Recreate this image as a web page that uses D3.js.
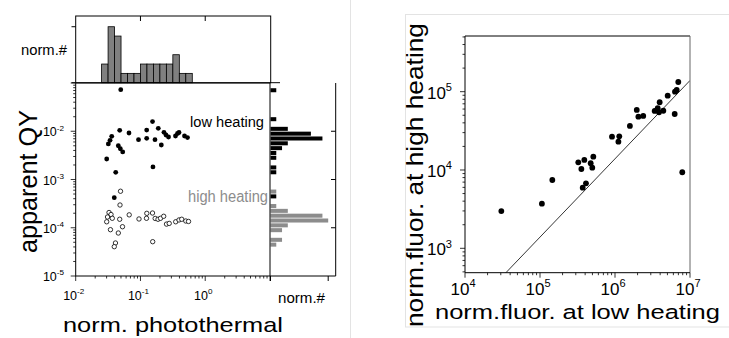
<!DOCTYPE html>
<html><head><meta charset="utf-8">
<script src="https://cdn.jsdelivr.net/npm/d3@7"></script>
<style>body{margin:0;background:#fff;} svg{display:block;font-family:"Liberation Sans",Arial,sans-serif;}</style>
</head><body><svg id="c" width="729" height="338"></svg>
<script>
// ---------- DATA ----------
// left panel: low heating (filled) points
const lowX = [0.0496,0.1535,0.0478,0.0665,0.1247,0.1884,0.2306,0.2477,0.2710,0.3475,0.3733,0.3937,0.4786,0.5324,0.0360,0.0339,0.0319,0.0933,0.1247,0.1675,0.2099,0.0455,0.0489,0.0532,0.0301,0.0415,0.1559,0.0394];
const lowY = [0.0727,0.0159,0.01047,0.0092,0.0106,0.0115,0.0095,0.00836,0.0076,0.00798,0.00898,0.00941,0.00798,0.00741,0.00785,0.00649,0.00545,0.00668,0.00715,0.00668,0.00519,0.00501,0.00434,0.00372,0.00266,0.00141,0.00182,0.00042];
// left panel: high heating (open) points
const highX = [0.0492,0.0483,0.0327,0.0351,0.0310,0.0301,0.0367,0.0478,0.0670,0.0528,0.0344,0.0455,0.0949,0.1253,0.1239,0.1535,0.1687,0.1866,0.2040,0.2284,0.2524,0.2779,0.3500,0.3937,0.4335,0.5012,0.5521,0.0411,0.0394,0.1545];
const highY = [0.000571,0.000296,0.000207,0.000188,0.000167,0.000133,0.000157,0.000150,0.000185,0.000105,0.0000912,0.0000778,0.000152,0.000199,0.000157,0.000202,0.000156,0.000150,0.000157,0.000173,0.000119,0.000123,0.000133,0.000145,0.000150,0.000138,0.000135,0.0000483,0.0000405,0.0000514];
// top histogram (log10 of lower bin edge, width 0.1 decade) and counts
const topHistLo = [-1.6,-1.5,-1.4,-1.3,-1.2,-1.1,-1.0,-0.9,-0.8,-0.7,-0.6,-0.5,-0.4,-0.3];
const topHistCount = [2,6,5,1,1,1,2,2,2,2,2,3,1,1];
// right histograms (log10 of lower bin edge, width 0.1 decade)
const lowHistLo = [-1.2,-1.8,-2.0,-2.1,-2.2,-2.3,-2.4,-2.5,-2.6,-2.8,-2.9,-3.4];
const lowHistCount = [1,1,3,7,9,3,2,1,1,1,1,1];
const highHistLo = [-3.3,-3.6,-3.7,-3.8,-3.9,-4.0,-4.1,-4.3,-4.4];
const highHistCount = [1,1,3,9,10,3,2,2,1];
// right panel: fluorescence low vs high heating
const fluorLow = [3.05e4,1.06e5,1.46e5,3.24e5,3.56e5,3.9e5,4.74e5,5.14e5,4.98e5,3.71e5,4.1e5,9.12e5,1.14e6,1.11e6,1.58e6,1.95e6,2.05e6,2.38e6,3.38e6,3.71e6,3.86e6,3.94e6,4.41e6,5.04e6,6.25e6,6.31e6,6.65e6,6.98e6,7.89e6];
const fluorHigh = [2990,3715,7450,12530,10300,13430,12190,14800,10700,5940,6760,26600,26900,22970,36500,58400,48000,49000,56700,61400,54600,73300,57100,88900,51900,100000,105000,133000,9350];
const fitRatio = 0.0139; // reference line: high = ratio * low
// tick labels
const leftXTickExp = [-2,-1,0];
const leftYTickExp = [-2,-3,-4,-5];
const rightXTickExp = [4,5,6,7];
const rightYTickExp = [3,4,5];

// ---------- DRAW ----------
const svg = d3.select("#c");
const GREY = "#8c8c8c";

// separators
svg.append("line").attr("x1",350.5).attr("x2",350.5).attr("y1",0).attr("y2",338).attr("stroke","#e3e3e3");
svg.append("rect").attr("x",405.5).attr("y",14.5).attr("width",340).attr("height",312.5).attr("fill","none").attr("stroke","#e3e3e3");

function supLabel(g, x, y, exp, size, anchor){
  const t = g.append("text").attr("x",x).attr("y",y).attr("text-anchor",anchor).attr("font-size",size).attr("fill","#000");
  t.append("tspan").text("10");
  t.append("tspan").attr("dy",-size*0.45).attr("font-size",size*0.65).text(exp<0?"-"+(-exp):String(exp));
  return t;
}
function isMajor(v){const l=Math.log10(v);return Math.abs(l-Math.round(l))<1e-6;}

// ===== LEFT PANEL =====
const x = d3.scaleLog().domain([1e-2,1e1]).range([75.7,270]);
const y = d3.scaleLog().domain([1e-5,1e-1]).range([276,83]);
const L = svg.append("g");

// top histogram
const yh = d3.scaleLinear().domain([0,7.15]).range([82.7,16]);
L.selectAll("rect.th").data(topHistLo).join("rect")
  .attr("x",(d)=>x(Math.pow(10,d))).attr("width",(d)=>x(Math.pow(10,d+0.1))-x(Math.pow(10,d)))
  .attr("y",(d,i)=>yh(topHistCount[i])).attr("height",(d,i)=>yh(0)-yh(topHistCount[i]))
  .attr("fill","#808080").attr("stroke","#000").attr("stroke-width",0.8);
L.append("rect").attr("x",75.7).attr("y",16).attr("width",195).attr("height",66.7).attr("fill","none").attr("stroke","#000");
[0,6].forEach(v=>L.append("line").attr("x1",71.5).attr("x2",75.7).attr("y1",yh(v)).attr("y2",yh(v)).attr("stroke","#000"));
[0.1,1].forEach(v=>L.append("line").attr("x1",x(v)).attr("x2",x(v)).attr("y1",16).attr("y2",21).attr("stroke","#000"));

// right histograms
const xh = d3.scaleLinear().domain([0,11.3]).range([270.5,335.7]);
function hbars(lo,cnt,col){
  L.selectAll(null).data(lo).join("rect")
   .attr("x",xh(0)).attr("width",(d,i)=>xh(cnt[i])-xh(0))
   .attr("y",d=>y(Math.pow(10,d+0.1))+0.4).attr("height",d=>y(Math.pow(10,d))-y(Math.pow(10,d+0.1))-0.8)
   .attr("fill",col);
}
hbars(highHistLo,highHistCount,GREY);
hbars(lowHistLo,lowHistCount,"#000");
L.append("line").attr("x1",335.7).attr("x2",335.7).attr("y1",83).attr("y2",276).attr("stroke","#000");
L.append("line").attr("x1",270).attr("x2",335.7).attr("y1",276).attr("y2",276).attr("stroke","#000");
L.append("line").attr("x1",270).attr("x2",280).attr("y1",82.7).attr("y2",82.7).attr("stroke","#000");
[1e-2,1e-3,1e-4].forEach(v=>L.append("line").attr("x1",331).attr("x2",335.7).attr("y1",y(v)).attr("y2",y(v)).attr("stroke","#000"));
[0,10].forEach(v=>L.append("line").attr("x1",xh(v)).attr("x2",xh(v)).attr("y1",276).attr("y2",281).attr("stroke","#000"));

// main frame
L.append("rect").attr("x",75.7).attr("y",83).attr("width",194.3).attr("height",193).attr("fill","none").attr("stroke","#000");
// x ticks
x.ticks().forEach(v=>{const m=isMajor(v);L.append("line").attr("x1",x(v)).attr("x2",x(v)).attr("y1",276).attr("y2",276+(m?5:2.5)).attr("stroke","#000").attr("stroke-width",0.8);});
// y ticks
y.ticks().forEach(v=>{const m=isMajor(v);L.append("line").attr("x1",75.7-(m?5:2.5)).attr("x2",75.7).attr("y1",y(v)).attr("y2",y(v)).attr("stroke","#000").attr("stroke-width",0.8);});
leftXTickExp.forEach(e=>supLabel(L,x(Math.pow(10,e))-2,300,e,12.5,"middle"));
leftYTickExp.forEach(e=>supLabel(L,64,y(Math.pow(10,e))+5,e,12.5,"end"));

// points
L.selectAll("circle.hi").data(highX).join("circle")
  .attr("cx",d=>x(d)).attr("cy",(d,i)=>y(highY[i])).attr("r",2.2)
  .attr("fill","#fff").attr("stroke","#000").attr("stroke-width",0.8);
L.selectAll("circle.lo").data(lowX).join("circle")
  .attr("cx",d=>x(d)).attr("cy",(d,i)=>y(lowY[i])).attr("r",2.4).attr("fill","#000");

// texts
L.append("text").attr("x",21).attr("y",55).attr("font-size",15).attr("textLength",46).attr("lengthAdjust","spacingAndGlyphs").text("norm.#");
L.append("text").attr("x",278).attr("y",303).attr("font-size",14).attr("textLength",47).attr("lengthAdjust","spacingAndGlyphs").text("norm.#");
L.append("text").attr("x",190).attr("y",126.7).attr("font-size",15.5).attr("textLength",74).attr("lengthAdjust","spacingAndGlyphs").text("low heating");
L.append("text").attr("x",188).attr("y",201.7).attr("font-size",16).attr("fill",GREY).attr("textLength",80).attr("lengthAdjust","spacingAndGlyphs").text("high heating");
L.append("text").attr("transform","translate(37,181.5) rotate(-90)").attr("text-anchor","middle").attr("font-size",25).attr("textLength",143).attr("lengthAdjust","spacingAndGlyphs").text("apparent QY");
L.append("text").attr("x",173).attr("y",332).attr("text-anchor","middle").attr("font-size",21).attr("textLength",220).attr("lengthAdjust","spacingAndGlyphs").text("norm. photothermal");

// ===== RIGHT PANEL =====
const X = d3.scaleLog().domain([1e4,1e7]).range([465,690]);
const Y = d3.scaleLog().domain([488,5.14e5]).range([272.7,36]);
const R = svg.append("g");
R.append("defs").append("clipPath").attr("id","rc").append("rect").attr("x",465).attr("y",36).attr("width",225).attr("height",236.7);
// fit line
const fitLow = [X.domain()[0], X.domain()[1]];
R.append("line").attr("clip-path","url(#rc)")
  .attr("x1",X(fitLow[0])).attr("y1",Y(fitLow[0]*fitRatio)).attr("x2",X(fitLow[1])).attr("y2",Y(fitLow[1]*fitRatio))
  .attr("stroke","#000").attr("stroke-width",0.8);
R.selectAll("circle").data(fluorLow).join("circle")
  .attr("cx",d=>X(d)).attr("cy",(d,i)=>Y(fluorHigh[i])).attr("r",2.9).attr("fill","#000");
R.append("line").attr("x1",465).attr("x2",690).attr("y1",36).attr("y2",36).attr("stroke","#000");
R.append("line").attr("x1",690).attr("x2",690).attr("y1",36).attr("y2",272.7).attr("stroke","#666");
R.append("line").attr("x1",465).attr("x2",690).attr("y1",272.7).attr("y2",272.7).attr("stroke","#000");
R.append("line").attr("x1",465).attr("x2",465).attr("y1",36).attr("y2",272.7).attr("stroke","#000");
X.ticks().forEach(v=>{const m=isMajor(v);R.append("line").attr("x1",X(v)).attr("x2",X(v)).attr("y1",272.7).attr("y2",272.7+(m?5:2.5)).attr("stroke","#000").attr("stroke-width",0.8);});
Y.ticks().forEach(v=>{const m=isMajor(v);R.append("line").attr("x1",465-(m?5:2.5)).attr("x2",465).attr("y1",Y(v)).attr("y2",Y(v)).attr("stroke","#000").attr("stroke-width",0.8);});
rightXTickExp.forEach(e=>supLabel(R,X(Math.pow(10,e))-2,294.5,e,17,"middle"));
rightYTickExp.forEach(e=>supLabel(R,452,Y(Math.pow(10,e))+7,e,17,"end"));
R.append("text").attr("transform","translate(423,175) rotate(-90)").attr("text-anchor","middle").attr("font-size",24).attr("textLength",304).attr("lengthAdjust","spacingAndGlyphs").text("norm.fluor. at high heating");
R.append("text").attr("x",577.5).attr("y",318.5).attr("text-anchor","middle").attr("font-size",20.5).attr("textLength",285).attr("lengthAdjust","spacingAndGlyphs").text("norm.fluor. at low heating");
</script></body></html>
